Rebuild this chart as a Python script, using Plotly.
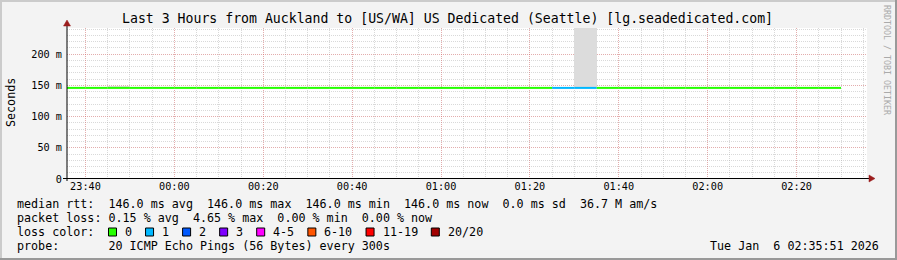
import plotly.graph_objects as go
from datetime import datetime, timedelta

# ---------------- data ----------------
t_start = datetime(2026, 1, 5, 23, 35)          # first 5-minute interval start
step = timedelta(minutes=5)
x_range = [datetime(2026, 1, 5, 23, 35, 51), datetime(2026, 1, 6, 2, 35, 51)]

rtt_ms = [146.0, 146.0, 146.0, 146.0, 146.0, 146.0, 146.0, 146.0, 146.0, 146.0,
          146.0, 146.0, 146.0, 146.0, 146.0, 146.0, 146.0, 146.0, 146.0, 146.0,
          146.0, 146.0, 146.0, 146.0, 146.0, 146.0, 146.0, 146.0, 146.0, 146.0,
          146.0, 146.0, 146.0, 146.0, 146.0]
loss_pings = [0, 0, 0, 0, 0, 0, 0, 0, 0, 0,
              0, 0, 0, 0, 0, 0, 0, 0, 0, 0,
              0, 0, 1, 1, 0, 0, 0, 0, 0, 0,
              0, 0, 0, 0, 0]
smoke_hi = [146.0, 146.0, 148.5, 146.0, 146.0, 146.0, 146.0, 146.0, 146.0, 146.0,
            146.0, 146.0, 146.0, 146.0, 146.0, 146.0, 146.0, 146.0, 146.0, 146.0,
            146.0, 146.0, 146.0, 260.0, 146.0, 146.0, 146.0, 146.0, 146.0, 146.0,
            146.0, 146.0, 146.0, 146.0, 146.0]

y_tickvals = [0, 50, 100, 150, 200]
y_ticktext = ["0", "50 m", "100 m", "150 m", "200 m"]
x_ticktext = ["23:40", "00:00", "00:20", "00:40", "01:00", "01:20", "01:40", "02:00", "02:20"]
x_tickvals = [datetime(2026, 1, 5, 23, 40) + timedelta(minutes=20 * i) for i in range(len(x_ticktext))]

loss_labels = ["0", "1", "2", "3", "4-5", "6-10", "11-19", "20/20"]
loss_colors = ["#26ff00", "#00b8ff", "#0059ff", "#7e00ff", "#ff00ff", "#ff5500", "#ff0000", "#a10000"]
loss_bins = [(0, 0), (1, 1), (2, 2), (3, 3), (4, 5), (6, 10), (11, 19), (20, 20)]

title = "Last 3 Hours from Auckland to [US/WA] US Dedicated (Seattle) [lg.seadedicated.com]"
legend_rows = [
    "median rtt:  146.0 ms avg  146.0 ms max  146.0 ms min  146.0 ms now  0.0 ms sd  36.7 M am/s",
    "packet loss: 0.15 % avg  4.65 % max  0.00 % min  0.00 % now",
    "loss color:",
    "probe:       20 ICMP Echo Pings (56 Bytes) every 300s",
]
date_text = "Tue Jan  6 02:35:51 2026"
watermark = "RRDTOOL / TOBI OETIKER"
y_title = "Seconds"

# ---------------- layout geometry ----------------
W, H = 897, 260
L, R, T, B = 67, 30, 28, 81
PW, PH = W - L - R, H - T - B
MONO = "DejaVu Sans Mono"


def px(x):
    return (x - L) / PW


def py(y):
    return (H - B - y) / PH


def nb(s):
    return s.replace(" ", "\u00a0")


fig = go.Figure()

# smoke
starts = [t_start + step * i for i in range(len(rtt_ms))]
centers = [s + step / 2 for s in starts]
fig.add_trace(go.Bar(
    x=centers, y=[h - v for h, v in zip(smoke_hi, rtt_ms)], base=rtt_ms,
    width=step.total_seconds() * 1000, marker=dict(color="#dcdcdc", line=dict(width=0)),
    hoverinfo="skip", showlegend=False))

# median line coloured by loss
for (lo, hi), col in zip(loss_bins, loss_colors):
    xs, ys = [], []
    for s, v, lp in zip(starts, rtt_ms, loss_pings):
        if lo <= lp <= hi:
            xs += [s, s + step, None]
            ys += [v, v, None]
    if xs:
        fig.add_trace(go.Scatter(x=xs, y=ys, mode="lines", line=dict(color=col, width=2),
                                 hoverinfo="skip", showlegend=False))

annotations = [
    dict(text=nb(title), x=px(447.5), xref="paper", y=py(19), yref="paper", xanchor="center",
         yanchor="middle", showarrow=False, font=dict(family=MONO, size=13.2, color="#000")),
    dict(text=y_title, x=px(11), xref="paper", y=py(102), yref="paper", xanchor="center",
         yanchor="middle", textangle=-90, showarrow=False, font=dict(family=MONO, size=11.7, color="#000")),
    dict(text=nb(watermark), x=px(887), xref="paper", y=py(60), yref="paper", xanchor="center",
         yanchor="middle", textangle=90, showarrow=False, font=dict(family=MONO, size=8.3, color="#aaaaaa")),
    dict(text=nb(date_text), x=px(881), xref="paper", y=py(246), yref="paper", xanchor="right",
         yanchor="middle", showarrow=False, font=dict(family=MONO, size=11.7, color="#000")),
]
row_y = [204, 218, 232, 246]
for txt, yy in zip(legend_rows, row_y):
    annotations.append(dict(text=nb(txt), x=px(15), xref="paper", y=py(yy), yref="paper",
                            xanchor="left", yanchor="middle", showarrow=False,
                            font=dict(family=MONO, size=11.7, color="#000")))

shapes = []
cw = 7.05
xs_ = 108.5
for lab, col in zip(loss_labels, loss_colors):
    shapes.append(dict(type="rect", xref="paper", yref="paper", x0=px(xs_), x1=px(xs_ + 8),
                       y0=py(236), y1=py(228), fillcolor=col, line=dict(color="#000", width=1)))
    annotations.append(dict(text=lab, x=px(xs_ + 14.5), xref="paper", y=py(232), yref="paper",
                            xanchor="left", yanchor="middle", showarrow=False,
                            font=dict(family=MONO, size=11.7, color="#000")))
    xs_ = xs_ + 15 + len(lab) * cw + 15

# axes lines and arrows
shapes += [
    dict(type="line", xref="paper", yref="paper", x0=px(67), x1=px(67), y0=py(181), y1=py(25),
         line=dict(color="#000", width=1)),
    dict(type="line", xref="paper", yref="paper", x0=px(63), x1=px(870), y0=py(178.5), y1=py(178.5),
         line=dict(color="#000", width=1)),
    dict(type="path", xref="paper", yref="paper",
         path=f"M {px(63.5)} {py(26)} L {px(70.5)} {py(26)} L {px(67)} {py(20)} Z",
         fillcolor="#9b1c1c", line=dict(color="#9b1c1c", width=0.5)),
    dict(type="path", xref="paper", yref="paper",
         path=f"M {px(869)} {py(175)} L {px(869)} {py(182)} L {px(875)} {py(178.5)} Z",
         fillcolor="#9b1c1c", line=dict(color="#9b1c1c", width=0.5)),
    # 3D frame
    dict(type="rect", xref="paper", yref="paper", x0=px(0), x1=px(W), y0=py(0), y1=py(2),
         fillcolor="#cbcbcb", line=dict(width=0)),
    dict(type="rect", xref="paper", yref="paper", x0=px(0), x1=px(2), y0=py(0), y1=py(H),
         fillcolor="#cbcbcb", line=dict(width=0)),
    dict(type="rect", xref="paper", yref="paper", x0=px(0), x1=px(W), y0=py(H - 2), y1=py(H),
         fillcolor="#999999", line=dict(width=0)),
    dict(type="rect", xref="paper", yref="paper", x0=px(W - 2), x1=px(W), y0=py(0), y1=py(H),
         fillcolor="#999999", line=dict(width=0)),
]

major_grid = "rgba(255,60,60,0.28)"
minor_grid = "rgba(170,170,170,0.45)"

fig.update_layout(
    width=W, height=H, margin=dict(l=L, r=R, t=T, b=B, pad=0),
    paper_bgcolor="#f3f3f3", plot_bgcolor="#ffffff",
    showlegend=False, bargap=0, annotations=annotations, shapes=shapes,
    xaxis=dict(type="date", range=x_range, tickvals=x_tickvals, ticktext=x_ticktext,
               showgrid=True, gridcolor=major_grid, griddash="1px,1px", gridwidth=1,
               minor=dict(dtick=300000, tick0="2026-01-05 23:40", showgrid=True,
                          gridcolor=minor_grid, griddash="1px,1px", gridwidth=1),
               ticks="", showline=False, zeroline=False,
               tickfont=dict(family=MONO, size=10.2, color="#000")),
    yaxis=dict(range=[0, 242], tickvals=y_tickvals, ticktext=y_ticktext,
               showgrid=True, gridcolor=major_grid, griddash="1px,1px", gridwidth=1,
               minor=dict(dtick=10, tick0=0, showgrid=True,
                          gridcolor=minor_grid, griddash="1px,1px", gridwidth=1),
               ticks="", showline=False, zeroline=False, ticklabelstandoff=4,
               tickfont=dict(family=MONO, size=10.2, color="#000")),
)

fig.write_html("out.html")
